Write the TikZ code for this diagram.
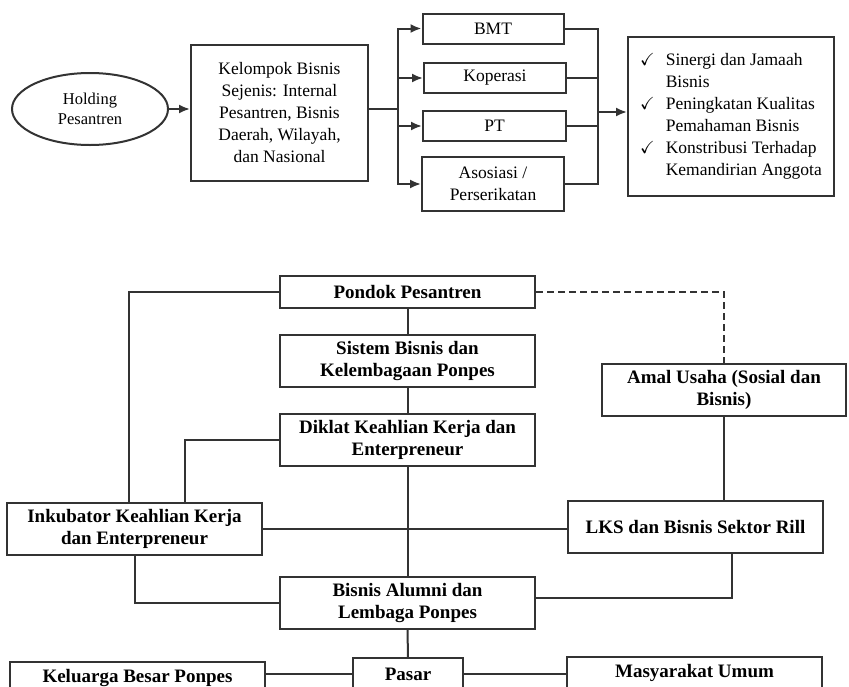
\documentclass[tikz,border=0pt]{standalone}
\usepackage{fontspec}
\setmainfont{Liberation Serif}
\usepackage{amssymb}
\usetikzlibrary{shapes.geometric, positioning, arrows.meta}

\begin{document}
\begin{tikzpicture}[x=1pt, y=-1pt,
    garis/.style={line width=2pt, draw=black!80},
    panah/.style={garis, -{Latex[length=11pt,width=9pt]}},
    kotak/.style={garis, rectangle, inner sep=2pt, align=center,
        font=\fontsize{17.5}{22}\selectfont},
    kotakb/.style={garis, rectangle, inner sep=2pt, align=center,
        minimum width=255pt, minimum height=52pt,
        font=\fontsize{19}{21.5}\selectfont\bfseries}]
    % 0. Bingkai gambar
    \useasboundingbox (0,0) rectangle (849,686);
    \clip (0,0) rectangle (849,686);

    % 1. Bagan atas: holding pesantren
    \node[kotak, ellipse, minimum width=156pt, minimum height=72pt,
        font=\fontsize{16.5}{20}\selectfont] (holding) at (90,109) {Holding\\Pesantren};
    \node[kotak, minimum width=177pt, minimum height=136pt] (kelompok) at (279.5,113)
        {Kelompok Bisnis\\Sejenis: Internal\\Pesantren, Bisnis\\Daerah, Wilayah,\\dan Nasional};
    \node[kotak, minimum width=141pt, minimum height=30pt] (bmt) at (493,28.5) {BMT};
    \node[kotak, minimum width=142pt, minimum height=30pt] (koperasi) at (495,78) {Koperasi};
    \node[kotak, minimum width=143pt, minimum height=30pt] (pt) at (494.5,126) {PT};
    \node[kotak, minimum width=142pt, minimum height=54pt] (asosiasi) at (493,184)
        {Asosiasi /\\Perserikatan};
    \node[kotak, minimum width=206pt, minimum height=159pt] (hasil) at (731,116.5)
        {\begin{tabular}{@{}l@{\hspace{11pt}}l@{}}
            $\checkmark$ & Sinergi dan Jamaah\\
                         & Bisnis\\
            $\checkmark$ & Peningkatan Kualitas\\
                         & Pemahaman Bisnis\\
            $\checkmark$ & Konstribusi Terhadap\\
                         & Kemandirian Anggota
        \end{tabular}};

    % 2. Panah bagan atas
    \draw[panah] (holding.east) -- (holding.east -| kelompok.west);
    \coordinate (cabang) at (398,109);
    \draw[garis] (kelompok.east |- cabang) -- (cabang);
    \draw[panah] (cabang) |- (bmt.west);
    \draw[panah] (cabang) |- (koperasi.west);
    \draw[panah] (cabang) |- (pt.west);
    \draw[panah] (cabang) |- (asosiasi.west);
    \coordinate (gabung) at (598,112);
    \draw[garis] (bmt.east) -| (gabung) |- (asosiasi.east);
    \draw[garis] (koperasi.east) -- (koperasi.east -| gabung);
    \draw[garis] (pt.east) -- (pt.east -| gabung);
    \draw[panah] (gabung) -- (gabung -| hasil.west);

    % 3. Bagan bawah: kotak-kotak
    \node[kotakb, minimum height=32pt] (pondok) at (407.5,292) {Pondok Pesantren};
    \node[kotakb] (sistem) at (407.5,361) {Sistem Bisnis dan\\Kelembagaan Ponpes};
    \node[kotakb] (diklat) at (407.5,440) {Diklat Keahlian Kerja dan\\Enterpreneur};
    \node[kotakb, minimum width=244pt] (amal) at (724,390) {Amal Usaha (Sosial dan\\Bisnis)};
    \node[kotakb] (inkubator) at (134.5,529) {Inkubator Keahlian Kerja\\dan Enterpreneur};
    \node[kotakb] (lks) at (695.5,527) {LKS dan Bisnis Sektor Rill};
    \node[kotakb] (alumni) at (407.5,603) {Bisnis Alumni dan\\Lembaga Ponpes};
    \node[kotakb, minimum height=32pt] (keluarga) at (137.5,678) {Keluarga Besar Ponpes};
    \node[kotakb, minimum width=110pt, minimum height=32pt] (pasar) at (408,674) {Pasar};
    \node[kotakb, minimum height=32pt] (masyarakat) at (694.5,673) {Masyarakat Umum};

    % 4. Garis penghubung bagan bawah
    \draw[garis] (pondok.south) -- (sistem.north);
    \draw[garis] (sistem.south) -- (diklat.north);
    \draw[garis] (diklat.south) -- (alumni.north);
    \draw[garis] (pondok.west) -| ([xshift=-5.5pt]inkubator.north);
    \draw[garis] (diklat.west) -| ([xshift=50.5pt]inkubator.north);
    \draw[garis, dash pattern=on 7pt off 4pt] (pondok.east) -| (amal.north);
    \draw[garis] (amal.south) -- (amal.south |- lks.north);
    \draw[garis] (inkubator.east) -- (inkubator.east -| lks.west);
    \draw[garis] (inkubator.south) |- (alumni.west);
    \draw[garis] ([xshift=36.5pt]lks.south) |- ([yshift=5pt]alumni.east);
    \draw[garis] (alumni.south) -- (pasar.north);
    \draw[garis] (pasar.west) -- (pasar.west -| keluarga.east);
    \draw[garis] (pasar.east) -- (pasar.east -| masyarakat.west);
\end{tikzpicture}
\end{document}
